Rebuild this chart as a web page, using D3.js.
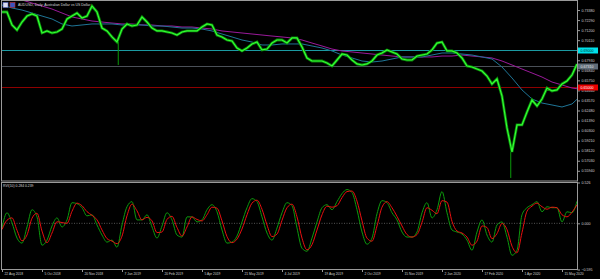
<!DOCTYPE html>
<meta charset="utf-8">
<script src="https://d3js.org/d3.v7.min.js"></script>
<style>
  body { margin: 0; background: #000; }
  svg { display: block; font-family: "Liberation Sans", Arial, sans-serif; }
</style>
<body>
<div id="chart"></div>
<script>

// daily closes, one value every 4 bars (bar 0 = 22 Aug 2018)
var closes = [
  0.7317, 0.7317, 0.7176, 0.7122, 0.7208, 0.7273, 0.7295, 0.7273, 0.7089, 0.7111,
  0.7089, 0.7100, 0.7132, 0.7241, 0.7273, 0.7306, 0.7252, 0.7273, 0.7382, 0.7317,
  0.7143, 0.7111, 0.7046, 0.6991, 0.7132, 0.7187, 0.7165, 0.7176, 0.7263, 0.7208,
  0.7143, 0.7111, 0.7111, 0.7100, 0.7089, 0.7067, 0.7100, 0.7111, 0.7111, 0.7111,
  0.7154, 0.7187, 0.7176, 0.7067, 0.7046, 0.7013, 0.7002, 0.6926, 0.6894, 0.6926,
  0.6970, 0.6991, 0.6905, 0.6915, 0.6980, 0.7013, 0.7013, 0.6980, 0.7035, 0.7035,
  0.6937, 0.6818, 0.6785, 0.6785, 0.6785, 0.6763, 0.6731, 0.6796, 0.6861, 0.6850,
  0.6796, 0.6753, 0.6742, 0.6753, 0.6785, 0.6850, 0.6872, 0.6905, 0.6883, 0.6861,
  0.6807, 0.6796, 0.6796, 0.6839, 0.6850, 0.6861, 0.6905, 0.6980, 0.6991, 0.6894,
  0.6894, 0.6872, 0.6818, 0.6731, 0.6720, 0.6698, 0.6677, 0.6622, 0.6536, 0.6590,
  0.6405, 0.6058, 0.5798, 0.6091, 0.6091, 0.6232, 0.6362, 0.6297, 0.6373, 0.6492,
  0.6460, 0.6471, 0.6536, 0.6568, 0.6633, 0.6753
];

// long wicks (bar, low)
var wickBars = [93, 407];
var wickLows = [0.6742, 0.5516];

// moving averages, one value every 8 bars
var maBlue = [
  0.7393, 0.7360, 0.7338, 0.7306, 0.7273, 0.7241, 0.7187, 0.7165, 0.7176, 0.7187,
  0.7187, 0.7187, 0.7176, 0.7176, 0.7176, 0.7165, 0.7165, 0.7154, 0.7143, 0.7143,
  0.7132, 0.7111, 0.7078, 0.7046, 0.7013, 0.6991, 0.6959, 0.6959, 0.6970, 0.6970,
  0.6970, 0.6948, 0.6926, 0.6894, 0.6850, 0.6818, 0.6785, 0.6774, 0.6785, 0.6807,
  0.6829, 0.6829, 0.6829, 0.6850, 0.6872, 0.6872, 0.6861, 0.6850, 0.6829, 0.6807,
  0.6720, 0.6601, 0.6471, 0.6373, 0.6329, 0.6308, 0.6286, 0.6319, 0.6420
];
var maPurple = [
  0.7512, 0.7480, 0.7447, 0.7414, 0.7382, 0.7349, 0.7306, 0.7263, 0.7241, 0.7219,
  0.7208, 0.7197, 0.7187, 0.7187, 0.7176, 0.7176, 0.7165, 0.7165, 0.7154, 0.7154,
  0.7143, 0.7132, 0.7111, 0.7100, 0.7089, 0.7078, 0.7067, 0.7056, 0.7046, 0.7035,
  0.7013, 0.6980, 0.6948, 0.6915, 0.6894, 0.6883, 0.6872, 0.6861, 0.6850, 0.6839,
  0.6829, 0.6829, 0.6829, 0.6829, 0.6839, 0.6839, 0.6850, 0.6839, 0.6829, 0.6818,
  0.6785, 0.6742, 0.6698, 0.6655, 0.6611, 0.6557, 0.6525, 0.6492, 0.6476
];

// RVI(10), one value every 4 bars
var rviMain = [
  -0.060, 0.136, 0.005, -0.190, -0.255, -0.047, 0.175, 0.083, -0.282, -0.216,
  -0.034, 0.070, -0.047, 0.044, 0.266, 0.253, 0.201, 0.096, 0.110, -0.021,
  -0.151, -0.242, -0.216, -0.308, -0.021, 0.214, 0.279, 0.044, 0.044, 0.110,
  -0.047, -0.190, -0.034, 0.136, 0.044, -0.151, -0.177, 0.083, 0.083, 0.018,
  0.044, 0.175, 0.240, 0.149, -0.086, -0.255, -0.242, -0.164, 0.018, 0.201,
  0.318, 0.279, 0.083, -0.125, -0.216, -0.060, 0.136, 0.266, 0.227, -0.060,
  -0.321, -0.360, -0.190, 0.018, 0.201, 0.240, 0.175, 0.279, 0.383, 0.435,
  0.396, 0.175, -0.112, -0.269, -0.190, 0.123, 0.292, 0.266, 0.136, 0.044,
  -0.112, -0.177, -0.177, -0.112, 0.136, 0.266, 0.070, 0.175, 0.409, 0.136,
  -0.086, -0.112, -0.138, -0.216, -0.347, -0.112, 0.044, -0.151, -0.242, -0.021,
  0.018, -0.177, -0.412, -0.347, 0.110, 0.201, 0.240, 0.279, 0.149, 0.214,
  0.201, 0.201, 0.018, 0.149, 0.136, 0.284
];
var rviSignal = [
  -0.080, 0.040, 0.070, -0.090, -0.225, -0.150, 0.065, 0.130, -0.100, -0.250,
  -0.125, 0.020, 0.010, 0.000, 0.155, 0.260, 0.227, 0.150, 0.103, 0.045,
  -0.086, -0.197, -0.229, -0.262, -0.165, 0.097, 0.247, 0.161, 0.044, 0.077,
  0.032, -0.119, -0.112, 0.051, 0.090, -0.054, -0.164, -0.047, 0.083, 0.050,
  0.031, 0.110, 0.208, 0.195, 0.032, -0.171, -0.249, -0.203, -0.073, 0.110,
  0.260, 0.298, 0.181, -0.021, -0.171, -0.138, 0.038, 0.201, 0.247, 0.084,
  -0.191, -0.341, -0.275, -0.086, 0.110, 0.221, 0.208, 0.227, 0.331, 0.409,
  0.416, 0.286, 0.032, -0.191, -0.230, -0.034, 0.208, 0.279, 0.201, 0.090,
  -0.034, -0.145, -0.177, -0.145, 0.012, 0.201, 0.168, 0.123, 0.292, 0.273,
  0.025, -0.099, -0.125, -0.177, -0.282, -0.230, -0.034, -0.054, -0.197, -0.132,
  -0.002, -0.080, -0.295, -0.380, -0.119, 0.156, 0.221, 0.260, 0.214, 0.182,
  0.208, 0.201, 0.110, 0.084, 0.143, 0.239
];

var priceTicks = [0.7338, 0.7229, 0.7120, 0.7011, 0.6902, 0.6793, 0.6684, 0.6575,
  0.6466, 0.6357, 0.6248, 0.6139, 0.6030, 0.5921, 0.5812, 0.5703, 0.5594];
var rviTicks = [0.526, 0, -0.595];
var dateBars = [0, 32, 64, 96, 128, 160, 192, 224, 256, 288, 320, 352, 384, 416, 448];
var dateLabels = ["22 Aug 2018", "5 Oct 2018", "20 Nov 2018", "7 Jan 2019", "20 Feb 2019",
  "5 Apr 2019", "21 May 2019", "4 Jul 2019", "19 Aug 2019", "2 Oct 2019", "15 Nov 2019",
  "2 Jan 2020", "17 Feb 2020", "1 Apr 2020", "15 May 2020"];

// horizontal levels: value, line colour, box colour, text colour
var levelValues = [0.6900, 0.6731, 0.6500];
var levelLabels = ["0.69000", "0.67310", "0.65000"];
var levelLine = ["#1b9aa2", "#4a5058", "#8e0000"];
var levelBox = ["#00dfe8", "#5f6c78", "#e80000"];
var levelText = ["#003030", "#e8e8e8", "#ffffff"];

var W = 600, H = 279;
var left = 1.5, right = 577.5;
var mainTop = 0.5, mainBot = 181;
var subTop = 182.5, subBot = 269.5;

var svg = d3.select("#chart").append("svg")
  .attr("width", W).attr("height", H)
  .style("background", "#000");

var x = d3.scaleLinear().domain([0, 460]).range([2, 577]);
var y = d3.scaleLinear().domain([0.5483, 0.7447]).range([mainBot, 0]);
var ys = d3.scaleLinear().domain([-0.595, 0.526]).range([subBot, subTop]);

var defs = svg.append("defs");
defs.append("clipPath").attr("id", "clipMain").append("rect")
  .attr("x", left).attr("y", mainTop).attr("width", right - left).attr("height", mainBot - mainTop);
defs.append("clipPath").attr("id", "clipSub").append("rect")
  .attr("x", left).attr("y", subTop).attr("width", right - left).attr("height", subBot - subTop);

var main = svg.append("g").attr("clip-path", "url(#clipMain)");
var sub = svg.append("g").attr("clip-path", "url(#clipSub)");

// level lines
levelValues.forEach(function (v, i) {
  main.append("line")
    .attr("x1", left).attr("x2", right)
    .attr("y1", Math.round(y(v)) + 0.5).attr("y2", Math.round(y(v)) + 0.5)
    .attr("stroke", levelLine[i]).attr("stroke-width", 1);
});

// moving averages
var maLine = d3.line().x(function (d, i) { return x(i * 8); }).y(function (d) { return y(d); });
main.append("path").datum(maPurple).attr("d", maLine)
  .attr("fill", "none").attr("stroke", "#9a1a9a").attr("stroke-width", 1);
main.append("path").datum(maBlue).attr("d", maLine)
  .attr("fill", "none").attr("stroke", "#1f7596").attr("stroke-width", 1);

// wicks
wickBars.forEach(function (b, i) {
  main.append("line")
    .attr("x1", x(b)).attr("x2", x(b))
    .attr("y1", y(closes[Math.round(b / 4)])).attr("y2", y(wickLows[i]))
    .attr("stroke", "#0a9a0a").attr("stroke-width", 1);
});

// price
var priceLine = d3.line().x(function (d, i) { return x(i * 4); }).y(function (d) { return y(d); });
main.append("path").datum(closes).attr("d", priceLine)
  .attr("fill", "none").attr("stroke", "#0a860a").attr("stroke-width", 2.8)
  .attr("stroke-linejoin", "miter");
main.append("path").datum(closes).attr("d", priceLine)
  .attr("fill", "none").attr("stroke", "#33ff33").attr("stroke-width", 1.2);

// RVI sub window
sub.append("line")
  .attr("x1", left).attr("x2", right)
  .attr("y1", ys(0)).attr("y2", ys(0))
  .attr("stroke", "#6a6a6a").attr("stroke-width", 0.8).attr("stroke-dasharray", "1,1.5");
var rviLine = d3.line().x(function (d, i) { return x(i * 4); }).y(function (d) { return ys(d); })
  .curve(d3.curveMonotoneX);
sub.append("path").datum(rviMain).attr("d", rviLine)
  .attr("fill", "none").attr("stroke", "#0d9a0d").attr("stroke-width", 1);
sub.append("path").datum(rviSignal).attr("d", rviLine)
  .attr("fill", "none").attr("stroke", "#e81010").attr("stroke-width", 1);

// frames
[[mainTop, mainBot], [subTop, subBot]].forEach(function (p) {
  svg.append("rect")
    .attr("x", left).attr("y", p[0]).attr("width", right - left).attr("height", p[1] - p[0])
    .attr("fill", "none").attr("stroke", "#9a9a9a").attr("stroke-width", 1);
});

// right price axis
var ax = svg.append("g").attr("transform", "translate(" + right + ",0)")
  .call(d3.axisRight(y).tickValues(priceTicks).tickSize(2.5).tickPadding(1.5)
    .tickFormat(d3.format(".5f")));
var ax2 = svg.append("g").attr("transform", "translate(" + right + ",0)")
  .call(d3.axisRight(ys).tickValues(rviTicks).tickSize(2.5).tickPadding(1.5)
    .tickFormat(d3.format(".3f")));
var axb = svg.append("g").attr("transform", "translate(0," + subBot + ")")
  .call(d3.axisBottom(x).tickValues(dateBars).tickSize(2.5).tickPadding(1)
    .tickFormat(function (d, i) { return dateLabels[i]; }));
[ax, ax2, axb].forEach(function (g) {
  g.select(".domain").remove();
  g.selectAll("line").attr("stroke", "#9a9a9a");
  g.selectAll("text").attr("fill", "#d0d0d0").style("font-size", "3.6px");
});
axb.selectAll("text").attr("text-anchor", "start").attr("dx", 2).style("font-size", "3.3px");

// level boxes on the axis
levelValues.forEach(function (v, i) {
  var yy = Math.round(y(v)) + 0.5;
  svg.append("rect").attr("x", right + 0.5).attr("y", yy - 3).attr("width", 20).attr("height", 6)
    .attr("fill", levelBox[i]);
  svg.append("text").attr("x", right + 3).attr("y", yy + 1.3)
    .attr("fill", levelText[i]).style("font-size", "3.6px").text(levelLabels[i]);
});

// title and icons
svg.append("rect").attr("x", 3).attr("y", 2.5).attr("width", 5).attr("height", 5)
  .attr("fill", "#dcdcf0").attr("stroke", "#5060c0").attr("stroke-width", 0.6);
svg.append("rect").attr("x", 10).attr("y", 2.5).attr("width", 5).attr("height", 5)
  .attr("fill", "#3a54c0").attr("stroke", "#c03030").attr("stroke-width", 0.6);
svg.append("text").attr("x", 18).attr("y", 6.4)
  .attr("fill", "#d8d8d8").style("font-size", "3.5px")
  .text("AUDUSD, Daily:  Australian Dollar vs US Dollar");
svg.append("text").attr("x", 3).attr("y", subTop + 4.6)
  .attr("fill", "#d8d8d8").style("font-size", "3.4px")
  .text("RVI(10) " + d3.format(".3f")(rviMain[rviMain.length - 1]) + " " +
        d3.format(".3f")(rviSignal[rviSignal.length - 1]));

</script>
</body>
